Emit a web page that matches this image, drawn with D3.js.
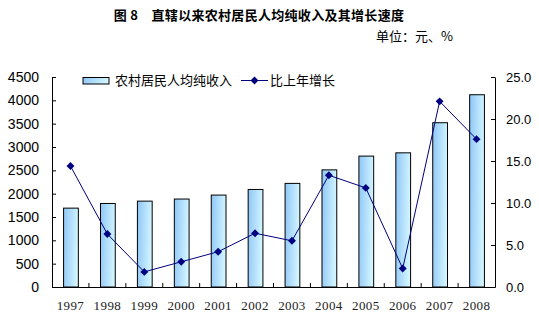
<!DOCTYPE html>
<html><head><meta charset="utf-8">
<script src="https://cdn.jsdelivr.net/npm/d3@7/dist/d3.min.js"></script>
<style>body{margin:0;background:#fff}svg{display:block}</style>
</head><body>
<svg id="c" width="539" height="324"></svg>
<script>
const years = ["1997","1998","1999","2000","2001","2002","2003","2004","2005","2006","2007","2008"];
const income = [1690,1790,1840,1885,1970,2090,2220,2510,2805,2875,3520,4120];
const growth = [14.4,6.3,1.8,3.0,4.2,6.4,5.5,13.3,11.8,2.2,22.1,17.6];
const leftTicks = [0,500,1000,1500,2000,2500,3000,3500,4000,4500];
const rightTicks = [0,5,10,15,20,25];
const title = "图 8\u3000直辖以来农村居民人均纯收入及其增长速度";
const unit = "单位：元、%";
const seriesNames = ["农村居民人均纯收入","比上年增长"];

const svg = d3.select("#c");
const L = 52, R = 495, T = 77, B = 287;
const cjk = "'Noto Sans CJK SC', sans-serif";

const x = d3.scaleBand().domain(years).range([L, R]).paddingInner(0).paddingOuter(0);
const yL = d3.scaleLinear().domain([0,4500]).range([B, T]);
const yR = d3.scaleLinear().domain([0,25]).range([B, T]);

const defs = svg.append("defs");
const g = defs.append("linearGradient").attr("id","bg").attr("x1",0).attr("y1",0).attr("x2",1).attr("y2",0.15);
g.append("stop").attr("offset","0%").attr("stop-color","#8fc6f7");
g.append("stop").attr("offset","100%").attr("stop-color","#d2f5ff");

svg.append("text").attr("x",259).attr("y",20).attr("text-anchor","middle")
  .style("font-family",cjk).style("font-size","13px").style("font-weight","bold").style("letter-spacing","0.3px").text(title);
svg.append("text").attr("x",376).attr("y",41)
  .style("font-family",cjk).style("font-size","13px").text(unit);

// bars
const bw = x.bandwidth()*0.4;
svg.append("g").selectAll("rect").data(years).join("rect")
  .attr("x", d => x(d) + (x.bandwidth()-bw)/2 + 0.5)
  .attr("y", (d,i) => yL(income[i]))
  .attr("width", bw)
  .attr("height", (d,i) => B - yL(income[i]))
  .attr("fill","url(#bg)").attr("stroke","#000").attr("stroke-width",1);

// axes
const axL = svg.append("g").attr("transform",`translate(${L},0)`)
  .call(d3.axisLeft(yL).tickValues(leftTicks).tickSizeInner(-4).tickSizeOuter(0).tickPadding(13).tickFormat(d3.format("d")));
const axR = svg.append("g").attr("transform",`translate(${R},0)`)
  .call(d3.axisRight(yR).tickValues(rightTicks).tickSizeInner(-4).tickSizeOuter(0).tickPadding(11).tickFormat(d3.format(".1f")));
const axB = svg.append("g").attr("transform",`translate(0,${B})`)
  .call(d3.axisBottom(x).tickSizeInner(0).tickSizeOuter(0).tickPadding(14));
[axL,axR,axB].forEach(a => { a.selectAll("path,line").attr("stroke","#000"); a.selectAll("text").attr("fill","#000"); });
axL.selectAll("text").style("font-family","'Liberation Sans', Arial, sans-serif").style("font-size","14px");
axR.selectAll("text").style("font-family","'Liberation Sans', Arial, sans-serif").style("font-size","13px");
axB.selectAll("text").style("font-family","'Liberation Serif', serif").style("font-size","13px").style("letter-spacing","0.4px").attr("fill","#222");
// category boundary ticks (pointing up)
axB.append("g").selectAll("line").data(years.slice(1)).join("line")
  .attr("x1", d => x(d)).attr("x2", d => x(d)).attr("y1",0).attr("y2",-4).attr("stroke","#000");

// line
const line = d3.line().x((d,i) => x(years[i]) + x.bandwidth()/2).y(d => yR(d));
svg.append("path").datum(growth).attr("d",line).attr("fill","none").attr("stroke","#000080").attr("stroke-width",1);
const diamond = d3.symbol().type(d3.symbolDiamond2).size(40);
svg.append("g").selectAll("path").data(growth).join("path")
  .attr("d", diamond)
  .attr("transform",(d,i) => `translate(${x(years[i]) + x.bandwidth()/2},${yR(d)})`)
  .attr("fill","#000080");

// legend
const lg = svg.append("g");
lg.append("rect").attr("x",83).attr("y",77.5).attr("width",26).attr("height",6.5)
  .attr("fill","url(#bg)").attr("stroke","#000").attr("stroke-width",1);
lg.append("text").attr("x",115).attr("y",85).style("font-family",cjk).style("font-size","13px").text(seriesNames[0]);
lg.append("line").attr("x1",241).attr("x2",268).attr("y1",80.5).attr("y2",80.5).attr("stroke","#000080");
lg.append("path").attr("d",diamond).attr("transform","translate(254.5,80.5)").attr("fill","#000080");
lg.append("text").attr("x",270).attr("y",85).style("font-family",cjk).style("font-size","13px").text(seriesNames[1]);
</script>
</body></html>
